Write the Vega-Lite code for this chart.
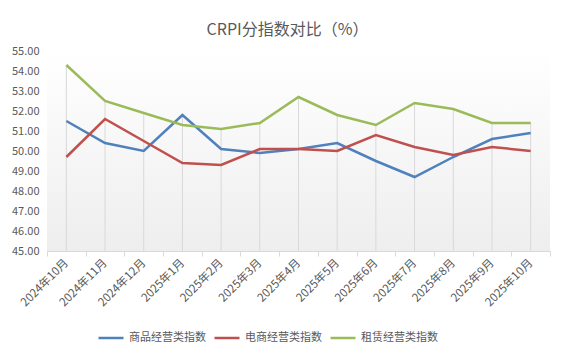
{
  "$schema": "https://vega.github.io/schema/vega-lite/v6.json",
  "width": 503,
  "height": 200,
  "autosize": "none",
  "padding": {"left": 47, "top": 51, "right": 16, "bottom": 106},
  "background": "white",
  "title": {
    "text": "CRPI分指数对比（%）",
    "anchor": "middle",
    "dx": -11,
    "offset": 7,
    "fontSize": 16,
    "fontWeight": "normal",
    "font": "Noto Sans CJK SC",
    "color": "#595959"
  },
  "config": {
    "view": {
      "stroke": null,
      "fill": {
        "gradient": "linear",
        "x1": 0, "y1": 0, "x2": 0, "y2": 1,
        "stops": [{"offset": 0, "color": "#ffffff"}, {"offset": 1, "color": "#eeeeee"}]
      }
    },
    "font": "Noto Sans CJK SC"
  },
  "data": {
    "values": [
      {"month": "2024年10月", "series": "商品经营类指数", "value": 51.5},
      {"month": "2024年11月", "series": "商品经营类指数", "value": 50.4},
      {"month": "2024年12月", "series": "商品经营类指数", "value": 50.0},
      {"month": "2025年1月", "series": "商品经营类指数", "value": 51.8},
      {"month": "2025年2月", "series": "商品经营类指数", "value": 50.1},
      {"month": "2025年3月", "series": "商品经营类指数", "value": 49.9},
      {"month": "2025年4月", "series": "商品经营类指数", "value": 50.1},
      {"month": "2025年5月", "series": "商品经营类指数", "value": 50.4},
      {"month": "2025年6月", "series": "商品经营类指数", "value": 49.5},
      {"month": "2025年7月", "series": "商品经营类指数", "value": 48.7},
      {"month": "2025年8月", "series": "商品经营类指数", "value": 49.7},
      {"month": "2025年9月", "series": "商品经营类指数", "value": 50.6},
      {"month": "2025年10月", "series": "商品经营类指数", "value": 50.9},
      {"month": "2024年10月", "series": "电商经营类指数", "value": 49.7},
      {"month": "2024年11月", "series": "电商经营类指数", "value": 51.6},
      {"month": "2024年12月", "series": "电商经营类指数", "value": 50.5},
      {"month": "2025年1月", "series": "电商经营类指数", "value": 49.4},
      {"month": "2025年2月", "series": "电商经营类指数", "value": 49.3},
      {"month": "2025年3月", "series": "电商经营类指数", "value": 50.1},
      {"month": "2025年4月", "series": "电商经营类指数", "value": 50.1},
      {"month": "2025年5月", "series": "电商经营类指数", "value": 50.0},
      {"month": "2025年6月", "series": "电商经营类指数", "value": 50.8},
      {"month": "2025年7月", "series": "电商经营类指数", "value": 50.2},
      {"month": "2025年8月", "series": "电商经营类指数", "value": 49.8},
      {"month": "2025年9月", "series": "电商经营类指数", "value": 50.2},
      {"month": "2025年10月", "series": "电商经营类指数", "value": 50.0},
      {"month": "2024年10月", "series": "租赁经营类指数", "value": 54.3},
      {"month": "2024年11月", "series": "租赁经营类指数", "value": 52.5},
      {"month": "2024年12月", "series": "租赁经营类指数", "value": 51.9},
      {"month": "2025年1月", "series": "租赁经营类指数", "value": 51.3},
      {"month": "2025年2月", "series": "租赁经营类指数", "value": 51.1},
      {"month": "2025年3月", "series": "租赁经营类指数", "value": 51.4},
      {"month": "2025年4月", "series": "租赁经营类指数", "value": 52.7},
      {"month": "2025年5月", "series": "租赁经营类指数", "value": 51.8},
      {"month": "2025年6月", "series": "租赁经营类指数", "value": 51.3},
      {"month": "2025年7月", "series": "租赁经营类指数", "value": 52.4},
      {"month": "2025年8月", "series": "租赁经营类指数", "value": 52.1},
      {"month": "2025年9月", "series": "租赁经营类指数", "value": 51.4},
      {"month": "2025年10月", "series": "租赁经营类指数", "value": 51.4}
    ]
  },
  "encoding": {
    "x": {
      "field": "month",
      "type": "ordinal",
      "sort": null,
      "scale": {"type": "band", "paddingInner": 0, "paddingOuter": 0},
      "axis": {
        "title": null,
        "labelAngle": -45,
        "labelAlign": "right",
        "labelBaseline": "middle",
        "labelFontSize": 11.5,
        "labelColor": "#595959",
        "labelPadding": 5,
        "labelOverlap": false,
        "tickBand": "extent",
        "tickColor": "#d9d9d9",
        "tickSize": 5,
        "domainColor": "#d9d9d9",
        "grid": false
      }
    }
  },
  "layer": [
    {
      "mark": {"type": "rule", "color": "#d9d9d9", "strokeWidth": 1},
      "encoding": {
        "y": {
          "aggregate": "max",
          "field": "value",
          "type": "quantitative",
          "scale": {"domain": [45, 55], "nice": false, "zero": false},
          "axis": {
            "title": null,
            "format": ".2f",
            "values": [45, 46, 47, 48, 49, 50, 51, 52, 53, 54, 55],
            "labelOverlap": false,
            "domain": false,
            "ticks": false,
            "grid": false,
            "labelFontSize": 11,
            "labelColor": "#595959",
            "labelPadding": 8
          }
        },
        "y2": {"datum": 45}
      }
    },
    {
      "mark": {"type": "line", "strokeWidth": 2.5},
      "encoding": {
        "y": {
          "field": "value",
          "type": "quantitative",
          "scale": {"domain": [45, 55], "nice": false, "zero": false},
          "axis": {
            "title": null,
            "format": ".2f",
            "values": [45, 46, 47, 48, 49, 50, 51, 52, 53, 54, 55],
            "labelOverlap": false,
            "domain": false,
            "ticks": false,
            "grid": false,
            "labelFontSize": 11,
            "labelColor": "#595959",
            "labelPadding": 8
          }
        },
        "color": {
          "field": "series",
          "type": "nominal",
          "scale": {
            "domain": ["商品经营类指数", "电商经营类指数", "租赁经营类指数"],
            "range": ["#4f81bd", "#c0504d", "#9bbb59"]
          },
          "legend": {
            "title": null,
            "orient": "none",
            "direction": "horizontal",
            "legendX": 50,
            "legendY": 273,
            "symbolType": "stroke",
            "symbolSize": 625,
            "symbolStrokeWidth": 2.5,
            "labelFontSize": 11,
            "labelColor": "#595959",
            "labelOffset": 4,
            "columnPadding": 3
          }
        }
      }
    }
  ]
}
